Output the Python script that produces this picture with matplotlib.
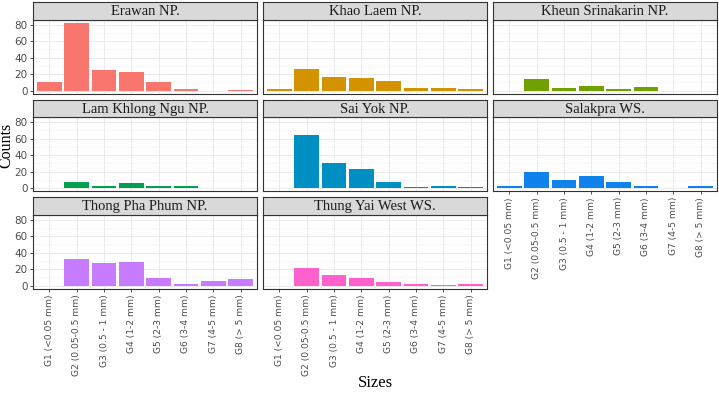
import matplotlib.pyplot as plt
from matplotlib.ticker import MultipleLocator

# categories
sizes = ['G1 (<0.05 mm)', 'G2 (0.05-0.5 mm)', 'G3 (0.5 - 1 mm)', 'G4 (1-2 mm)',
         'G5 (2-3 mm)', 'G6 (3-4 mm)', 'G7 (4-5 mm)', 'G8 (> 5 mm)']
sites = ['Erawan NP.', 'Khao Laem NP.', 'Kheun Srinakarin NP.', 'Lam Khlong Ngu NP.',
         'Sai Yok NP.', 'Salakpra WS.', 'Thong Pha Phum NP.', 'Thung Yai West WS.']

# counts per site (G1..G8)
erawan = [10, 82, 25, 22, 10, 2, 0, 1]
khao_laem = [2, 26, 16, 15, 12, 3, 3, 2]
kheun_srinakarin = [0, 14, 3, 6, 2, 4, 0, 0]
lam_khlong_ngu = [0, 7, 3, 6, 3, 3, 0, 0]
sai_yok = [0, 64, 30, 23, 8, 1, 3, 1]
salakpra = [3, 19, 10, 15, 8, 3, 0, 2]
thong_pha_phum = [0, 32, 27, 28, 9, 2, 6, 8]
thung_yai_west = [0, 21, 13, 9, 4, 2, 1, 2]

counts = [erawan, khao_laem, kheun_srinakarin, lam_khlong_ngu,
          sai_yok, salakpra, thong_pha_phum, thung_yai_west]
colors = ['#F8766D', '#D39200', '#72A000', '#00A050',
          '#008FC2', '#0F82EC', '#C77CFF', '#FF61CC']

W, H = 719, 393
fig = plt.figure(figsize=(W / 100, H / 100), dpi=100)

col_x = [33, 263, 493]
col_w = 224
row_top = [2, 99.5, 197]
strip_h = 17.5
plot_h = 74.5

serif = 'Liberation Serif'
ymax = max(max(c) for c in counts)
ylim = (-0.05 * ymax, 1.05 * ymax)
pos = list(range(1, len(sizes) + 1))

for i, site in enumerate(sites):
    r, c = divmod(i, 3)
    x0 = col_x[c]
    top = row_top[r]
    ax = fig.add_axes([x0 / W, 1 - (top + strip_h + plot_h) / H, col_w / W, plot_h / H])
    ax.bar(pos, counts[i], width=0.9, color=colors[i], linewidth=0, zorder=3)
    ax.set_xlim(0.4, 8.6)
    ax.set_ylim(*ylim)
    ax.set_xticks(pos)
    ax.yaxis.set_major_locator(MultipleLocator(20))
    ax.yaxis.set_minor_locator(MultipleLocator(10))
    ax.grid(which='major', color='#EBEBEB', lw=0.7, zorder=0)
    ax.grid(which='minor', axis='y', color='#F4F4F4', lw=0.5, zorder=0)
    for s in ax.spines.values():
        s.set_color('#333333')
        s.set_linewidth(0.8)
    ax.tick_params(colors='#333333', length=2.5, width=0.6, labelcolor='#4D4D4D',
                   labelsize=7.5, pad=1.5)
    ax.tick_params(which='minor', length=0)
    if c != 0:
        ax.tick_params(axis='y', length=0, labelleft=False)
    has_x = (r == 2) or (r == 1 and c == 2)
    if has_x:
        ax.set_xticklabels(sizes, rotation=90, fontsize=6.6, color='#4D4D4D', va='top')
    else:
        ax.tick_params(axis='x', length=0, labelbottom=False)

    # facet strip
    sax = fig.add_axes([x0 / W, 1 - (top + strip_h) / H, col_w / W, strip_h / H])
    sax.set_facecolor('#D9D9D9')
    sax.set_xticks([])
    sax.set_yticks([])
    for s in sax.spines.values():
        s.set_color('#333333')
        s.set_linewidth(0.8)
    sax.text(0.5, 0.45, site, ha='center', va='center', fontsize=10.5,
             family=serif, color='#1A1A1A', transform=sax.transAxes)

fig.text(6.5 / W, 1 - 145 / H, 'Counts', rotation=90, ha='center', va='center',
         fontsize=11.5, family=serif)
fig.text(375 / W, 1 - 383 / H, 'Sizes', ha='center', va='center',
         fontsize=12, family=serif)

fig.savefig('out.png', dpi=100)
